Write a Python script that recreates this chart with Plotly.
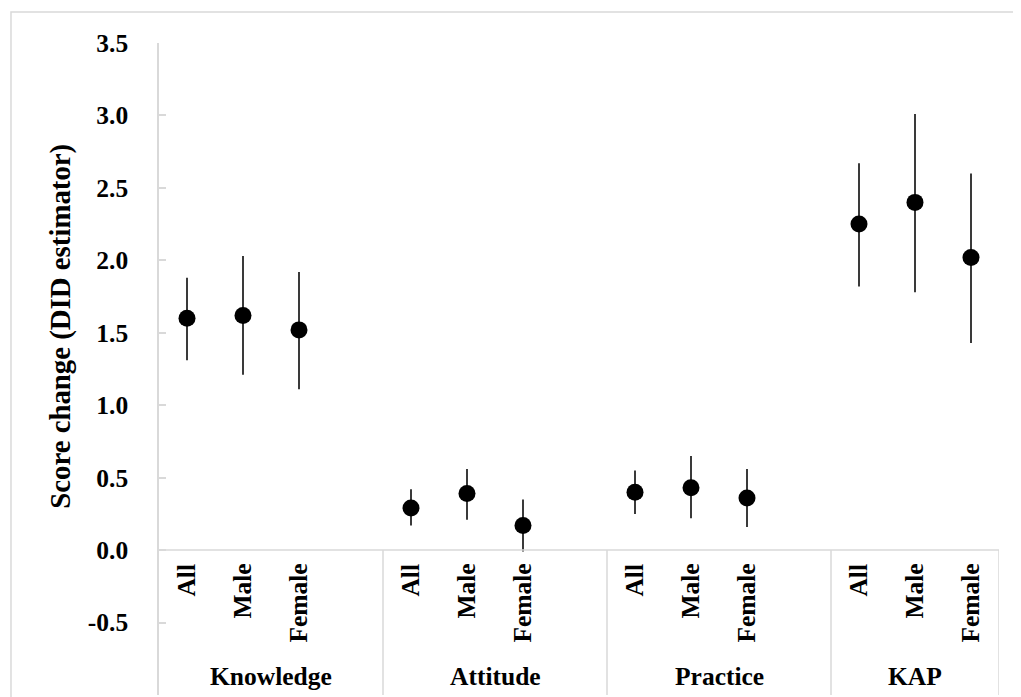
import plotly.graph_objects as go

groups = ["Knowledge", "Attitude", "Practice", "KAP"]
subgroups = ["All", "Male", "Female"]
# estimates per group (All, Male, Female)
estimate = [
    [1.60, 1.62, 1.52],
    [0.29, 0.39, 0.17],
    [0.40, 0.43, 0.36],
    [2.25, 2.40, 2.02],
]
lower = [
    [1.31, 1.21, 1.11],
    [0.17, 0.21, -0.01],
    [0.25, 0.22, 0.16],
    [1.82, 1.78, 1.43],
]
upper = [
    [1.88, 2.03, 1.92],
    [0.42, 0.56, 0.35],
    [0.55, 0.65, 0.56],
    [2.67, 3.01, 2.60],
]
y_ticks = [-0.5, 0.0, 0.5, 1.0, 1.5, 2.0, 2.5, 3.0, 3.5]
y_title = "Score change (DID estimator)"

FONT = "Liberation Serif"
GRID = "#d9d9d9"
SLOTS = 4  # three categories plus a spacer slot per group
FS = 25.5

xs, ys, em, ep = [], [], [], []
for gi in range(len(groups)):
    for si in range(len(subgroups)):
        xs.append(gi * SLOTS + si)
        ys.append(estimate[gi][si])
        em.append(estimate[gi][si] - lower[gi][si])
        ep.append(upper[gi][si] - estimate[gi][si])

x_max = (len(groups) - 1) * SLOTS + len(subgroups) - 0.5
y_min, y_max = -1.0, 3.5

fig = go.Figure()
fig.add_trace(go.Scatter(
    x=xs, y=ys, mode="markers",
    marker=dict(color="black", size=17),
    error_y=dict(type="data", symmetric=False, array=ep, arrayminus=em,
                 color="#3a3a3a", thickness=2, width=0),
    showlegend=False,
))

shapes = []
# x axis line at zero
shapes.append(dict(type="line", xref="x", yref="y", x0=-0.5, x1=x_max, y0=0, y1=0,
                   line=dict(color=GRID, width=1.5)))
# group separators
for gi in range(len(groups)):
    xb = gi * SLOTS + SLOTS - 0.5 if gi < len(groups) - 1 else x_max
    shapes.append(dict(type="line", xref="x", yref="y", x0=xb, x1=xb, y0=0, y1=y_min,
                       line=dict(color=GRID, width=1.5)))
# outer chart border
shapes.append(dict(type="rect", xref="paper", yref="paper", x0=-0.1762, x1=1.2,
                   y0=-0.2, y1=1.0475, line=dict(color=GRID, width=1.5),
                   fillcolor="rgba(0,0,0,0)", layer="below"))

annotations = []
for gi, g in enumerate(groups):
    for si, s in enumerate(subgroups):
        annotations.append(dict(x=gi * SLOTS + si, y=0, xref="x", yref="y",
                                text="<b>%s</b>" % s, textangle=-90, showarrow=False,
                                xanchor="center", yanchor="top", yshift=-12,
                                font=dict(family=FONT, size=FS, color="black")))
    gstart = gi * SLOTS - 0.5
    gend = gi * SLOTS + SLOTS - 0.5 if gi < len(groups) - 1 else x_max
    annotations.append(dict(x=(gstart + gend) / 2, y=-0.872, xref="x", yref="y",
                            text="<b>%s</b>" % g, showarrow=False,
                            xanchor="center", yanchor="middle",
                            font=dict(family=FONT, size=FS, color="black")))
# y-axis title (positioned like the original, above plot-area centre)
annotations.append(dict(x=-0.1167, y=1.548, xref="paper", yref="y",
                        text="<b>%s</b>" % y_title, textangle=-90, showarrow=False,
                        xanchor="center", yanchor="middle",
                        font=dict(family=FONT, size=28.8, color="black")))

fig.update_layout(
    width=1013, height=689,
    margin=dict(l=151, r=22, t=35, b=1.5),
    paper_bgcolor="white", plot_bgcolor="white",
    font=dict(family=FONT, color="black"),
    xaxis=dict(range=[-0.5, x_max], visible=False, fixedrange=True),
    yaxis=dict(range=[y_min, y_max], tickvals=y_ticks,
               ticktext=["<b>%.1f</b>" % v for v in y_ticks],
               tickfont=dict(family=FONT, size=FS, color="black"),
               showgrid=False, zeroline=False, showline=True, linecolor=GRID,
               linewidth=1.5, ticks="inside", ticklen=7, tickcolor=GRID, tickwidth=1.5,
               ticklabelstandoff=24),
    shapes=shapes, annotations=annotations,
)

fig.write_html("out.html")
